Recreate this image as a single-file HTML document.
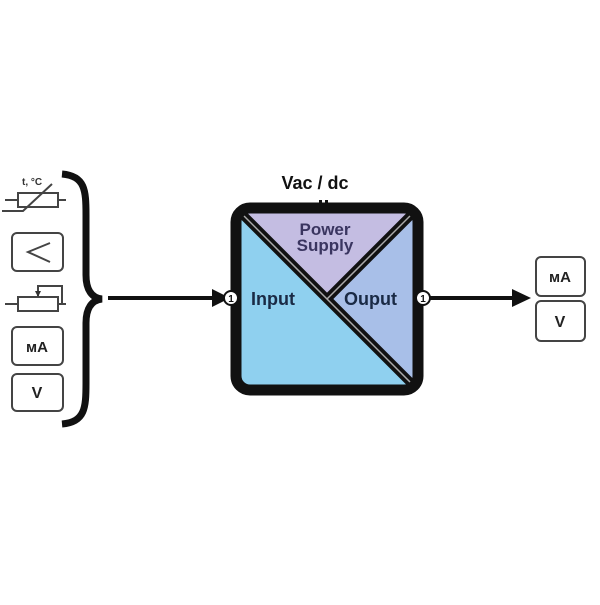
<!DOCTYPE html>
<html><head><style>body{margin:0;background:#fff}</style></head><body>
<svg width="600" height="600" viewBox="0 0 600 600" xmlns="http://www.w3.org/2000/svg" font-family="Liberation Sans, sans-serif" font-weight="bold">
<rect width="600" height="600" fill="#fff"/>
<g stroke="#444" stroke-width="2" fill="none">
<line x1="5" y1="200" x2="18" y2="200"/><rect x="18" y="193" width="40" height="14" fill="#fff"/><line x1="58" y1="200" x2="66" y2="200"/>
<polyline points="2,211 23,211 52,184"/>
<rect x="12" y="233" width="51" height="38" rx="5"/>
<polyline points="50,243 28,252 50,262"/>
<line x1="5" y1="304" x2="18" y2="304"/><rect x="18" y="297" width="40" height="14" fill="#fff"/><line x1="58" y1="304" x2="66" y2="304"/>
<polyline points="38,297 38,286 62,286 62,304"/>
<rect x="12" y="327" width="51" height="38" rx="5"/>
<rect x="12" y="374" width="51" height="37" rx="5"/>
<rect x="536" y="257" width="49" height="39" rx="5"/>
<rect x="536" y="301" width="49" height="40" rx="5"/>
</g>
<polygon points="35,291 41,291 38,297" fill="#333"/>
<text x="22" y="185" font-size="10" fill="#333">t, °C</text>
<text x="37" y="352" font-size="15" text-anchor="middle" fill="#222">мA</text>
<text x="37" y="398" font-size="16" text-anchor="middle" fill="#222">V</text>
<text x="560" y="282" font-size="15" text-anchor="middle" fill="#222">мA</text>
<text x="560" y="327" font-size="16" text-anchor="middle" fill="#222">V</text>
<path d="M62,174 C85,176 86,190 86,215 L86,275 C86,290 92,298 102,299 C92,300 86,308 86,323 L86,383 C86,408 85,422 62,424" fill="none" stroke="#111" stroke-width="7"/>
<line x1="108" y1="298" x2="215" y2="298" stroke="#111" stroke-width="4"/>
<polygon points="212,289 230,298 212,307" fill="#111"/>
<line x1="430" y1="298" x2="515" y2="298" stroke="#111" stroke-width="4"/>
<polygon points="512,289 531,298 512,307" fill="#111"/>
<clipPath id="c"><rect x="236" y="208" width="182" height="182" rx="14"/></clipPath>
<g clip-path="url(#c)">
<rect x="230" y="200" width="200" height="200" fill="#8fd0ef"/>
<polygon points="236,208 418,208 327,299" fill="#c4bde2"/>
<polygon points="418,208 418,390 327,299" fill="#a8bfe8"/>
<line x1="236" y1="208" x2="418" y2="390" stroke="#111" stroke-width="9"/>
<line x1="418" y1="208" x2="327" y2="299" stroke="#111" stroke-width="9"/>
<line x1="236" y1="208" x2="418" y2="390" stroke="#aaa" stroke-width="1.5"/>
<line x1="418" y1="208" x2="327" y2="299" stroke="#aaa" stroke-width="1.5"/>
</g>
<rect x="236" y="208" width="182" height="182" rx="14" fill="none" stroke="#111" stroke-width="11"/>
<rect x="319" y="200" width="3" height="10" fill="#111"/><rect x="325" y="200" width="3" height="10" fill="#111"/>
<text x="315" y="189" font-size="18" text-anchor="middle" fill="#111">Vac / dc</text>
<text x="325" y="235" font-size="17" text-anchor="middle" fill="#3a3560">Power</text>
<text x="325" y="251" font-size="17" text-anchor="middle" fill="#3a3560">Supply</text>
<text x="251" y="305" font-size="18" fill="#1a2a45">Input</text>
<text x="344" y="305" font-size="18" fill="#1a2a45">Ouput</text>
<circle cx="231" cy="298" r="7" fill="#fff" stroke="#111" stroke-width="2"/>
<text x="231" y="302" font-size="10" text-anchor="middle" fill="#111">1</text>
<circle cx="423" cy="298" r="7" fill="#fff" stroke="#111" stroke-width="2"/>
<text x="423" y="302" font-size="10" text-anchor="middle" fill="#111">1</text>
</svg>
</body></html>
